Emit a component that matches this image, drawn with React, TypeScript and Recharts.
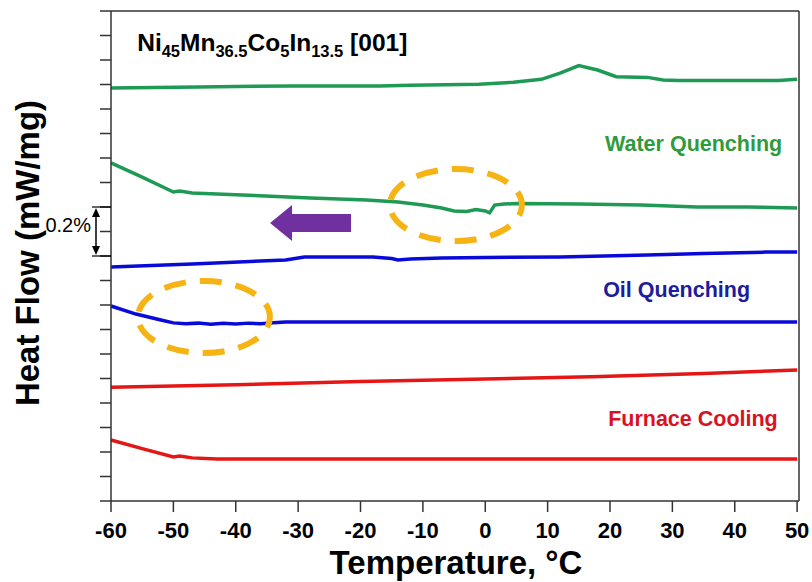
import { LineChart, Line, XAxis, YAxis, ReferenceDot, ReferenceLine } from 'recharts';

const FONT = '"Liberation Sans", Arial, Helvetica, sans-serif';

const tempTicks = [-60, -50, -40, -30, -20, -10, 0, 10, 20, 30, 40, 50];
const hfTicks = [0, 0.1, 0.2, 0.3, 0.4, 0.5, 0.6, 0.7, 0.8, 0.9, 1, 1.1, 1.2, 1.3, 1.4, 1.5, 1.6, 1.7, 1.8, 1.9, 2];

// water quenching: heating (upper) and cooling (lower) traces
const wqHeatT = [-60, -46, -31, -17, -12, -1, 4.5, 9, 12, 15, 18, 21, 26, 28.5, 31, 47, 50];
const wqHeatHF = [1.686, 1.69, 1.694, 1.694, 1.697, 1.701, 1.709, 1.721, 1.746, 1.777, 1.759, 1.732, 1.729, 1.718, 1.716, 1.716, 1.721];
const wqCoolT = [-60, -55, -50, -49, -47, -39, -28, -19, -14, -10, -7, -5, -3, -1.5, 0, 0.7, 1.5, 3, 5, 15, 25, 34, 42, 50];
const wqCoolHF = [1.38, 1.322, 1.261, 1.265, 1.257, 1.249, 1.237, 1.229, 1.22, 1.208, 1.196, 1.184, 1.182, 1.19, 1.184, 1.176, 1.208, 1.212, 1.214, 1.212, 1.208, 1.2, 1.2, 1.196];

// oil quenching
const oqHeatT = [-60, -47, -32, -29, -18, -15, -14, -12, -7, 0, 12, 26, 35, 45, 50];
const oqHeatHF = [0.955, 0.967, 0.984, 0.996, 0.996, 0.99, 0.984, 0.988, 0.992, 0.994, 0.996, 1.004, 1.01, 1.016, 1.016];
const oqCoolT = [-60, -56, -52, -50, -48, -46, -44, -42, -40, -38, -36, -34, -32, -25, 0, 25, 50];
const oqCoolHF = [0.796, 0.763, 0.739, 0.727, 0.723, 0.726, 0.721, 0.725, 0.722, 0.726, 0.723, 0.728, 0.731, 0.731, 0.731, 0.731, 0.731];

// furnace cooling
const fcHeatT = [-60, -40, -20, 0, 17, 35, 50];
const fcHeatHF = [0.464, 0.474, 0.488, 0.498, 0.507, 0.52, 0.535];
const fcCoolT = [-60, -55, -50, -49, -47, -43, 0, 50];
const fcCoolHF = [0.249, 0.214, 0.18, 0.184, 0.176, 0.171, 0.171, 0.171];

const GREEN = '#1f9a55';
const BLUE = '#0a0ad8';
const RED = '#e41616';
const ORANGE = '#f6b414';

const PLOT_H = 490;
const PX_PER_UNIT = PLOT_H / 2;

const toRows = (t: number[], v: number[]) => t.map((x, i) => ({ t: x, v: v[i] }));

const traces = [
  { key: 'wqHeat', rows: toRows(wqHeatT, wqHeatHF), color: GREEN },
  { key: 'wqCool', rows: toRows(wqCoolT, wqCoolHF), color: GREEN },
  { key: 'oqHeat', rows: toRows(oqHeatT, oqHeatHF), color: BLUE },
  { key: 'oqCool', rows: toRows(oqCoolT, oqCoolHF), color: BLUE },
  { key: 'fcHeat', rows: toRows(fcHeatT, fcHeatHF), color: RED },
  { key: 'fcCool', rows: toRows(fcCoolT, fcCoolHF), color: RED },
];

// draws an svg fragment anchored at a data point
const annot = (key: string, x: number, y: number, draw: (cx: number, cy: number) => any) => (
  <ReferenceDot
    key={key}
    x={x}
    y={y}
    r={0}
    ifOverflow="visible"
    isFront
    shape={(p: any) => draw(p.cx, p.cy)}
  />
);

const ovalDash = (cx: number, cy: number) => (
  <ellipse cx={cx} cy={cy} rx={66} ry={36} fill="none" stroke={ORANGE} strokeWidth={6} strokeDasharray="22 14" strokeDashoffset={11} />
);

const label = (text: string, color: string) => (cx: number, cy: number) => (
  <text x={cx} y={cy} fill={color} fontSize={21.5} fontWeight={700} fontFamily={FONT}>{text}</text>
);

export default function App() {
  return (
    <div style={{ position: 'absolute', left: 0, top: 0, width: 812, height: 582, background: '#fff' }}>
      <LineChart width={812} height={582} margin={{ top: 11, right: 13, bottom: 51, left: 91 }}>
        <XAxis
          dataKey="t"
          type="number"
          domain={[-60, 50.3]}
          ticks={tempTicks}
          height={30}
          stroke="#333"
          strokeWidth={1.5}
          tickSize={11}
          tickMargin={10}
          tick={{ fill: '#000', fontSize: 22, fontWeight: 700, fontFamily: FONT }}
          label={{
            content: () => (
              <text x={456} y={574} textAnchor="middle" fill="#000" fontSize={33} fontWeight={700} fontFamily={FONT}>
                Temperature, °C
              </text>
            ),
          }}
        />
        <YAxis
          type="number"
          domain={[0, 2]}
          ticks={hfTicks}
          width={20}
          stroke="#333"
          strokeWidth={1.5}
          tickSize={11}
          tickFormatter={() => ''}
          label={{
            content: () => (
              <text
                x={27}
                y={253}
                transform="rotate(-90, 27, 253)"
                textAnchor="middle"
                dominantBaseline="central"
                fill="#000"
                fontSize={33}
                fontWeight={700}
                fontFamily={FONT}
              >
                Heat Flow (mW/mg)
              </text>
            ),
          }}
        />
        <ReferenceLine y={2} stroke="#333" strokeWidth={1.5} />
        <ReferenceLine x={50.3} stroke="#333" strokeWidth={1.5} />

        {traces.map((s) => (
          <Line
            key={s.key}
            data={s.rows}
            dataKey="v"
            type="linear"
            stroke={s.color}
            strokeWidth={3.5}
            dot={false}
            isAnimationActive={false}
          />
        ))}

        {annot('title', -55.8, 1.837, (cx, cy) => (
          <text x={cx} y={cy} fill="#000" fontSize={24.5} fontWeight={700} fontFamily={FONT}>
            Ni<tspan fontSize={16.5} dy={6}>45</tspan>
            <tspan dy={-6}>Mn</tspan><tspan fontSize={16.5} dy={6}>36.5</tspan>
            <tspan dy={-6}>Co</tspan><tspan fontSize={16.5} dy={6}>5</tspan>
            <tspan dy={-6}>In</tspan><tspan fontSize={16.5} dy={6}>13.5</tspan>
            <tspan dy={-6}> [001]</tspan>
          </text>
        ))}
        {annot('lblWater', 19.2, 1.429, label('Water Quenching', '#2f9b3a'))}
        {annot('lblOil', 18.9, 0.833, label('Oil Quenching', '#1c1c9c'))}
        {annot('lblFurnace', 19.7, 0.306, label('Furnace Cooling', '#d9121f'))}

        {annot('ovalWater', -4.7, 1.208, ovalDash)}
        {annot('ovalOil', -45.1, 0.751, ovalDash)}

        {annot('coolArrow', -34.5, 1.135, (cx, cy) => (
          <polygon
            points={[
              [0, 0], [22, -18], [22, -9], [81, -9], [81, 9], [22, 9], [22, 18],
            ].map(([dx, dy]) => `${cx + dx},${cy + dy}`).join(' ')}
            fill="#7030a0"
          />
        ))}

        {annot('scaleBar', -60, 1.2, (cx, cy) => {
          const h = 0.2 * PX_PER_UNIT;
          const ax = cx - 15;
          return (
            <g>
              <line x1={cx - 19} y1={cy} x2={cx} y2={cy} stroke="#000" strokeWidth={1.2} />
              <line x1={cx - 19} y1={cy + h} x2={cx} y2={cy + h} stroke="#000" strokeWidth={1.2} />
              <line x1={ax} y1={cy + 6} x2={ax} y2={cy + h - 6} stroke="#000" strokeWidth={1.5} />
              <polygon points={`${ax},${cy + 1} ${ax - 4},${cy + 10} ${ax + 4},${cy + 10}`} fill="#000" />
              <polygon points={`${ax},${cy + h - 1} ${ax - 4},${cy + h - 10} ${ax + 4},${cy + h - 10}`} fill="#000" />
              <text x={cx - 20} y={cy + 25} textAnchor="end" fill="#000" fontSize={20} fontFamily={FONT}>0.2%</text>
            </g>
          );
        })}
      </LineChart>
    </div>
  );
}
